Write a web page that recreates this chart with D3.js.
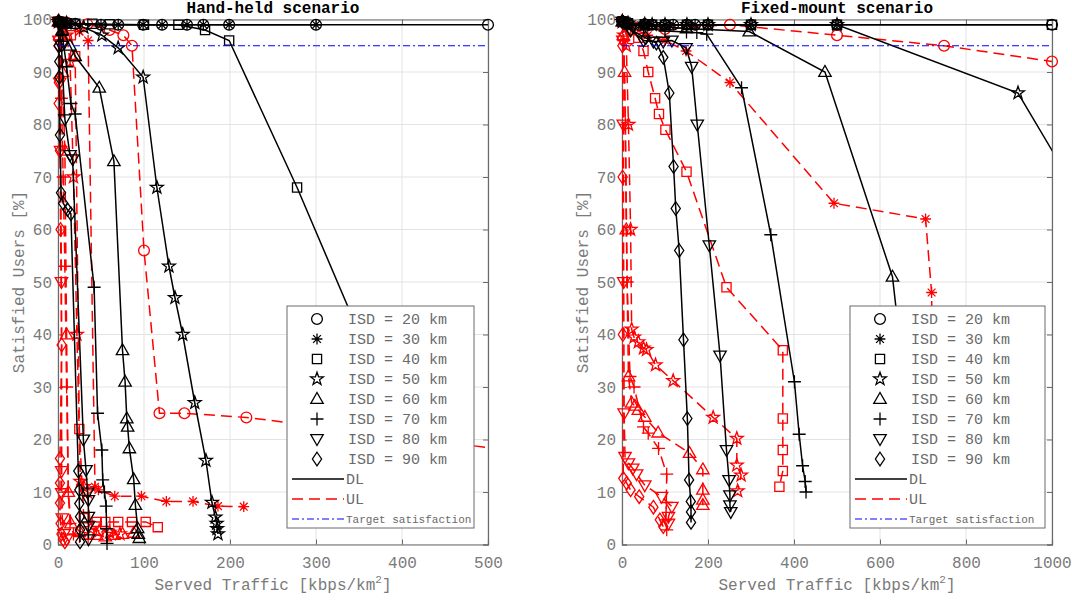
<!DOCTYPE html>
<html>
<head>
<meta charset="utf-8">
<script src="https://cdn.jsdelivr.net/npm/d3@7"></script>
<style>
  body { margin: 0; background: #fff; }
  text { font-family: "Liberation Mono", "DejaVu Sans Mono", monospace; }
</style>
</head>
<body>
<script>
var svgWidth = 1072;
var svgHeight = 602;

// Legend entries and marker shapes, one per inter-site distance.
var isdLabels = ["ISD = 20 km", "ISD = 30 km", "ISD = 40 km", "ISD = 50 km",
                 "ISD = 60 km", "ISD = 70 km", "ISD = 80 km", "ISD = 90 km"];
var markerTypes = ["circle", "asterisk", "square", "star", "triUp", "plus", "triDown", "diamond"];

var yTicks = [0, 10, 20, 30, 40, 50, 60, 70, 80, 90, 100];
var handHeldXTicks = [0, 100, 200, 300, 400, 500];
var fixedMountXTicks = [0, 200, 400, 600, 800, 1000];
var targetSatisfaction = 95;

// Hand-held scenario, [served traffic, satisfied users %] per ISD.
var handHeldDL = [
  [[1,99.6],[5,99.4],[10,99.3],[20,99.2],[50,99],[70,99],[99,99],[121,99],[150,99],[169,99],[199,99],[300,99],[500,99]],
  [[1,99.6],[5,99.4],[10,99.3],[20,99.2],[50,99],[70,99],[99,99],[121,99],[150,99],[169,99],[199,99],[300,99]],
  [[1,99.5],[5,99.4],[10,99.3],[20,99.2],[40,99.2],[60,99.1],[100,99],[140,99],[171,98],[199,96],[278,68],[390,25],[430,12]],
  [[1,99.6],[10,99.3],[30,98.5],[51,97],[70,94.6],[99,89],[115,68],[129,53],[136,47],[145,40],[159,27],[172,16],[179,8],[183,5.2],[184.5,4],[185,3],[186,2]],
  [[1,99.6],[5,98],[14,95],[20,93],[48,87],[65,73],[75,37],[78,31],[80,24],[81,22.4],[83,18.3],[88,12.4],[90,7.5],[92.6,3.1],[93.4,2],[94.5,1.2]],
  [[1,99.6],[5,97],[10,91],[15,84],[20,82],[42,49],[46,25],[51,18],[52,12.3],[54,10],[56,7.3],[56.5,3],[57,0.2]],
  [[1,99.6],[4,95],[8,81],[14,74.2],[17,73.4],[29.5,20],[32.6,14.2],[34.5,9.9],[35.3,8.5],[35.3,5.3],[35.3,3.5],[35.5,1]],
  [[0.5,99.6],[1,95],[1.5,92],[1.5,89],[2.3,78],[3.5,67],[6,65],[11,63.8],[15,63],[23.6,14],[24.8,10.4],[24.8,7.8],[25.6,5.3],[25.6,2.8],[25.6,0.5]]
];
var handHeldUL = [
  [[1,99.6],[10,99.4],[34,99.1],[60,98],[76,97],[86,95],[100,56],[118,25],[147,25],[219,24.2],[620,16]],
  [[1,99.6],[10,99.3],[25,97.7],[35,96],[43,11],[47,10.4],[66,9.2],[97,9.2],[126,8.2],[157,8.2],[186,7.3],[216,7.2]],
  [[0.5,99.6],[5,99],[15,97],[20,93],[24.8,22],[30,5],[45,4.3],[55,4.3],[70,4.3],[86,4.3],[102,4.3],[116,3.3]],
  [[0.5,99.6],[5,98.5],[10,97],[14,92],[18,70],[22,40],[26,12],[30,11],[34,10],[38,3],[48,2.6],[60,2.3],[72,2]],
  [[0.5,99.6],[2,97],[5,90],[8,75],[10,40],[12,10],[15,4],[25,2.5],[45,1.8],[55,1.5],[65,1.8],[75,2],[88,2.2]],
  [[0.5,99.6],[2,96],[4,85],[6,70],[8,53],[10,30],[12,10],[14,4],[18,2],[25,1.5],[35,1]],
  [[0.3,99.6],[1,96],[2,88],[3,75],[4,50],[4.3,14],[4.3,9.8],[5,5],[7,2],[10,1]],
  [[0.2,99.6],[0.5,95],[1,88],[0.8,84],[2.3,75],[3,60],[4.3,38],[2.3,16.4],[2.3,11.7],[2.3,7.9],[3,4],[4,2],[6,1],[8,0.5]]
];

// Fixed-mount scenario.
var fixedMountDL = [
  [[1,99.6],[14,99.3],[53,99.1],[70,99],[100,99],[119,99],[151,99],[170,99],[200,99],[300,99],[500,99],[1000,99]],
  [[1,99.6],[14,99.3],[53,99.1],[70,99],[100,99],[119,99],[151,99],[170,99],[200,99],[300,99],[500,99]],
  [[1,99.6],[14,99.3],[53,99.1],[70,99],[100,99],[151,99],[200,99],[300,99],[500,99],[1000,99]],
  [[1,99.6],[14,99.3],[53,99.1],[70,99],[100,99],[151,99],[200,99],[300,99],[500,99],[921,86],[1080,64]],
  [[1,99.6],[20,99],[50,98.8],[150,98.3],[296,97.7],[472,90],[629,51],[665,25],[690,10]],
  [[1,99.6],[50,98.5],[100,97.8],[150,97.6],[174,97.5],[197,97.2],[278,87],[346,59],[401,31],[412,21],[420,15],[426,12],[428,10]],
  [[1,99.6],[20,98],[50,96],[73,95.8],[96,95.8],[116,96],[149,94.6],[162,91],[175,80],[203,57],[228,36],[243,18],[249,12.3],[251,9.4],[251,7.5],[253,6.2]],
  [[1,99.6],[20,98],[55,96.5],[80,95.5],[96,92.8],[110,86],[120,72],[125,64],[133,56],[143,39],[152,24],[156,12.3],[160,8.2],[160.5,6.2],[160.5,4.2]]
];
var fixedMountUL = [
  [[1,99.6],[30,98.5],[100,98.2],[251,99],[500,97],[749,95],[1000,92]],
  [[1,99.6],[20,98.5],[60,97],[100,96],[149,94],[251,88],[493,65],[706,62],[720,48],[722,30]],
  [[1,99.6],[20,98],[38,96.5],[50,94],[61,90],[77,85],[86,82],[101,79],[150,71],[243,49],[374,37],[374,24],[374,18],[374,14],[366,11]],
  [[1,99.6],[5,97],[10,95],[15,80],[20,60],[22.5,41],[28,39.5],[38,38.6],[50,37.4],[57,37.1],[78,34.2],[119,31.2],[212,24.2],[267,20.2],[267,15.1],[277,13.2],[269,10.2]],
  [[1,99.6],[3,97],[6,90],[10,60],[15,32],[22.5,27],[30,26.4],[38,25.6],[53,24.3],[84,21.3],[157,17.4],[188,14.3],[188,10.4],[188,8.5],[188,7.5]],
  [[1,99.6],[4,96],[8,80],[12,50],[18.6,32],[28,30],[50,22.4],[61,21.2],[85,18.3],[104,13.4],[103,8],[102,4.7],[104,2.8]],
  [[1,99.6],[2,96],[3,80],[4,50],[5,25],[7,16.7],[15,15.5],[25,14.5],[34,13.4],[53,11.3],[92,9.1],[116,7.2],[108,5.3],[108,4]],
  [[0.5,99.6],[1,95],[1.5,70],[2,40],[3,12.6],[11,11.7],[20,10.4],[40,9.1],[73,7.1],[88,4.7],[96,3.4]]
];

var panels = [
  {title: "Hand-held scenario", left: 58, right: 488, xMax: 500, xTicks: handHeldXTicks,
   dl: handHeldDL, ul: handHeldUL, legendX: 287, legendW: 187, id: "a"},
  {title: "Fixed-mount scenario", left: 622, right: 1052, xMax: 1000, xTicks: fixedMountXTicks,
   dl: fixedMountDL, ul: fixedMountUL, legendX: 850, legendW: 195, id: "b"}
];
var plotTop = 19.5, plotBottom = 544.5;

var svg = d3.select("body").append("svg")
  .attr("width", svgWidth)
  .attr("height", svgHeight);

// Build a marker outline centred on 0,0.
function markerPath(type, s) {
  var p = d3.path();
  var i, a, r;
  if (type === "circle") {
    p.moveTo(s, 0); p.arc(0, 0, s, 0, 2 * Math.PI);
  } else if (type === "square") {
    p.rect(-s * 0.85, -s * 0.85, s * 1.7, s * 1.7);
  } else if (type === "star") {
    for (i = 0; i < 10; i++) {
      r = (i % 2) ? s * 0.5 : s * 1.25;
      a = -Math.PI / 2 + i * Math.PI / 5;
      if (i === 0) p.moveTo(r * Math.cos(a), r * Math.sin(a));
      else p.lineTo(r * Math.cos(a), r * Math.sin(a));
    }
    p.closePath();
  } else if (type === "triUp") {
    p.moveTo(0, -s * 1.2); p.lineTo(s * 1.15, s * 0.8); p.lineTo(-s * 1.15, s * 0.8); p.closePath();
  } else if (type === "triDown") {
    p.moveTo(0, s * 1.2); p.lineTo(s * 1.15, -s * 0.8); p.lineTo(-s * 1.15, -s * 0.8); p.closePath();
  } else if (type === "plus") {
    p.moveTo(-s * 1.2, 0); p.lineTo(s * 1.2, 0); p.moveTo(0, -s * 1.2); p.lineTo(0, s * 1.2);
  } else if (type === "asterisk") {
    p.moveTo(-s, 0); p.lineTo(s, 0); p.moveTo(0, -s); p.lineTo(0, s);
    p.moveTo(-s * 0.72, -s * 0.72); p.lineTo(s * 0.72, s * 0.72);
    p.moveTo(-s * 0.72, s * 0.72); p.lineTo(s * 0.72, -s * 0.72);
  } else if (type === "diamond") {
    p.moveTo(0, -s * 1.25); p.lineTo(s * 0.85, 0); p.lineTo(0, s * 1.25); p.lineTo(-s * 0.85, 0); p.closePath();
  }
  return p.toString();
}

var markerSize = 5.4;
var ulDash = "11,6";
var targetDash = "7,3,2,3";

panels.forEach(function(panel) {
  var x = d3.scaleLinear().domain([0, panel.xMax]).range([panel.left, panel.right]);
  var y = d3.scaleLinear().domain([0, 100]).range([plotBottom, plotTop]);
  var g = svg.append("g");

  // Clip lines to the plotting area.
  svg.append("clipPath").attr("id", "clip-" + panel.id)
    .append("rect")
    .attr("x", panel.left).attr("y", plotTop)
    .attr("width", panel.right - panel.left).attr("height", plotBottom - plotTop);

  // Grid lines.
  g.selectAll(".gx").data(panel.xTicks).enter().append("line")
    .attr("x1", function(d) { return x(d); }).attr("x2", function(d) { return x(d); })
    .attr("y1", plotTop).attr("y2", plotBottom)
    .attr("stroke", "#e3e3e3").attr("stroke-width", 1);
  g.selectAll(".gy").data(yTicks).enter().append("line")
    .attr("x1", panel.left).attr("x2", panel.right)
    .attr("y1", function(d) { return y(d); }).attr("y2", function(d) { return y(d); })
    .attr("stroke", "#e3e3e3").attr("stroke-width", 1);

  // Axes with inward ticks on all four sides.
  var axisColor = "#6a6a6a";
  var bottomAxis = g.append("g").attr("transform", "translate(0," + plotBottom + ")")
    .call(d3.axisBottom(x).tickValues(panel.xTicks).tickSize(-5).tickPadding(12).tickFormat(d3.format("d")));
  var leftAxis = g.append("g").attr("transform", "translate(" + panel.left + ",0)")
    .call(d3.axisLeft(y).tickValues(yTicks).tickSize(-5).tickPadding(6).tickFormat(d3.format("d")));
  var topAxis = g.append("g").attr("transform", "translate(0," + plotTop + ")")
    .call(d3.axisTop(x).tickValues(panel.xTicks).tickSize(-5).tickFormat(""));
  var rightAxis = g.append("g").attr("transform", "translate(" + panel.right + ",0)")
    .call(d3.axisRight(y).tickValues(yTicks).tickSize(-5).tickFormat(""));
  [bottomAxis, leftAxis, topAxis, rightAxis].forEach(function(ax) {
    ax.select(".domain").attr("stroke", axisColor).attr("stroke-width", 1.2);
    ax.selectAll(".tick line").attr("stroke", axisColor);
    ax.selectAll(".tick text").attr("fill", "#7a7a7a")
      .style("font-family", "Liberation Mono, monospace").style("font-size", "16px");
  });

  // Series: UL (red dashed) then DL (black solid).
  var line = d3.line().x(function(d) { return x(d[0]); }).y(function(d) { return y(d[1]); });
  var series = [];
  panel.ul.forEach(function(pts, i) { series.push({pts: pts, marker: markerTypes[i], color: "#ff0000", dash: ulDash}); });
  panel.dl.forEach(function(pts, i) { series.push({pts: pts, marker: markerTypes[i], color: "#000000", dash: null}); });

  var sg = g.selectAll(".series").data(series).enter().append("g");
  sg.append("path")
    .attr("clip-path", "url(#clip-" + panel.id + ")")
    .attr("d", function(d) { return line(d.pts); })
    .attr("fill", "none")
    .attr("stroke", function(d) { return d.color; })
    .attr("stroke-width", 1.5)
    .attr("stroke-dasharray", function(d) { return d.dash; });
  sg.each(function(s) {
    d3.select(this).selectAll(".m").data(s.pts.filter(function(p) { return p[0] <= panel.xMax; }))
      .enter().append("path")
      .attr("transform", function(p) { return "translate(" + x(p[0]) + "," + y(p[1]) + ")"; })
      .attr("d", markerPath(s.marker, markerSize))
      .attr("fill", "none")
      .attr("stroke", s.color)
      .attr("stroke-width", 1.3);
  });

  // Target satisfaction line.
  g.append("line")
    .attr("x1", x(0)).attr("x2", x(panel.xMax))
    .attr("y1", y(targetSatisfaction)).attr("y2", y(targetSatisfaction))
    .attr("stroke", "#0000ff").attr("stroke-width", 1.2)
    .attr("stroke-dasharray", targetDash);

  // Title and axis labels.
  var cx = (panel.left + panel.right) / 2;
  g.append("text").attr("x", cx).attr("y", 13).attr("text-anchor", "middle")
    .style("font-size", "16px").style("font-weight", "bold").attr("fill", "#000")
    .text(panel.title);
  var xl = g.append("text").attr("x", cx).attr("y", 590).attr("text-anchor", "middle")
    .style("font-size", "16px").attr("fill", "#7a7a7a");
  xl.append("tspan").text("Served Traffic [kbps/km");
  xl.append("tspan").attr("dy", -7).style("font-size", "11px").text("2");
  xl.append("tspan").attr("dy", 7).text("]");
  g.append("text")
    .attr("transform", "translate(" + (panel.left - 40) + "," + ((plotTop + plotBottom) / 2) + ") rotate(-90)")
    .attr("text-anchor", "middle").attr("dy", "0.35em")
    .style("font-size", "16px").attr("fill", "#7a7a7a")
    .text("Satisfied Users [%]");

  // Legend box.
  var lx = panel.legendX, ly = 306;
  var lg = g.append("g");
  lg.append("rect").attr("x", lx).attr("y", ly).attr("width", panel.legendW).attr("height", 222)
    .attr("fill", "#fff").attr("stroke", "#6a6a6a").attr("stroke-width", 1);
  isdLabels.forEach(function(label, i) {
    var ry = ly + 13 + i * 20;
    lg.append("path").attr("transform", "translate(" + (lx + 30) + "," + ry + ")")
      .attr("d", markerPath(markerTypes[i], markerSize))
      .attr("fill", "none").attr("stroke", "#000").attr("stroke-width", 1.3);
    lg.append("text").attr("x", lx + 61).attr("y", ry).attr("dy", "0.35em")
      .style("font-size", "15px").attr("fill", "#6a6a6a").text(label);
  });
  var lineItems = [
    {label: "DL", color: "#000", dash: null, size: "15px"},
    {label: "UL", color: "#ff0000", dash: ulDash, size: "15px"},
    {label: "Target satisfaction", color: "#0000ff", dash: targetDash, size: "11px"}
  ];
  lineItems.forEach(function(item, i) {
    var ry = ly + 13 + (8 + i) * 20;
    lg.append("line").attr("x1", lx + 5).attr("x2", lx + 57).attr("y1", ry).attr("y2", ry)
      .attr("stroke", item.color).attr("stroke-width", item.label === "Target satisfaction" ? 1.2 : 1.5)
      .attr("stroke-dasharray", item.dash);
    lg.append("text").attr("x", lx + 59).attr("y", ry).attr("dy", "0.35em")
      .style("font-size", item.size).attr("fill", "#6a6a6a").text(item.label);
  });
});
</script>
</body>
</html>
